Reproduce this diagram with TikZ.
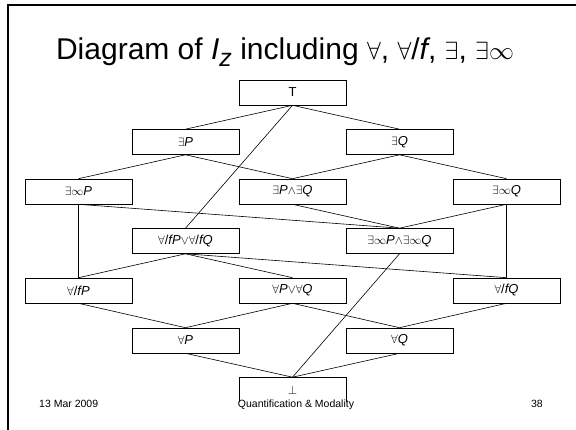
\documentclass[tikz,border=0pt]{standalone}
\usepackage{amsmath,amssymb}
\usepackage{fontspec}
\setmainfont{Liberation Sans}
\usepackage{tikz}

\begin{document}
\begin{tikzpicture}[x=1pt, y=-1pt,
    lattice/.style={draw=black, line width=0.6pt, minimum width=107pt, minimum height=25pt,
        inner sep=0pt, font=\fontsize{13}{13}\selectfont},
    edge/.style={black, line width=0.6pt},
    footer/.style={font=\fontsize{10.5}{11}\selectfont, inner sep=0pt, anchor=base}]

    \useasboundingbox (0,0) rectangle (576,430);

    % slide frame
    \draw[line width=2pt] (7.8,430) -- (7.8,5) -- (576,5);

    \node[anchor=base, font=\fontsize{30}{36}\selectfont] (title) at (285,60)
        {Diagram of \textit{I}\raisebox{-7pt}{\fontsize{25}{25}\selectfont\textit{z}} including
         $\forall$, $\forall$/\textit{f}, $\exists$, $\exists\infty$};

    % the lattice, row by row
    \node[lattice] (top) at (292.5,92.5) {T};

    \node[lattice] (exP) at (185.5,142) {$\exists$\textit{P}};
    \node[lattice] (exQ) at (399.5,142) {$\exists$\textit{Q}};

    \node[lattice] (exinfP) at (78.5,191.5) {$\exists\infty$\textit{P}};
    \node[lattice] (exPexQ) at (292.5,191.5) {$\exists$\textit{P}$\wedge\exists$\textit{Q}};
    \node[lattice] (exinfQ) at (506.5,191.5) {$\exists\infty$\textit{Q}};

    \node[lattice] (afPafQ) at (185.5,241) {$\forall$/\textit{fP}$\vee\forall$/\textit{fQ}};
    \node[lattice] (exinfPQ) at (399.5,241) {$\exists\infty$\textit{P}$\wedge\exists\infty$\textit{Q}};

    \node[lattice] (afP) at (78.5,290.5) {$\forall$/\textit{fP}};
    \node[lattice] (aPaQ) at (292.5,290.5) {$\forall$\textit{P}$\vee\forall$\textit{Q}};
    \node[lattice] (afQ) at (506.5,290.5) {$\forall$/\textit{fQ}};

    \node[lattice] (aP) at (185.5,340.5) {$\forall$\textit{P}};
    \node[lattice] (aQ) at (399.5,340.5) {$\forall$\textit{Q}};

    \node[lattice] (bot) at (292.5,390) {$\bot$};

    \draw[edge] (top.south) -- (exP.north);
    \draw[edge] (top.south) -- (exQ.north);
    \draw[edge] (top.south) -- (afPafQ.north);

    \draw[edge] (exP.south) -- (exinfP.north);
    \draw[edge] (exP.south) -- (exPexQ.north);
    \draw[edge] (exQ.south) -- (exPexQ.north);
    \draw[edge] (exQ.south) -- (exinfQ.north);

    \draw[edge] (exinfP.south) -- (afP.north);
    \draw[edge] (exinfP.south) -- (exinfPQ.north);
    \draw[edge] (exPexQ.south) -- (exinfPQ.north);
    \draw[edge] (exinfQ.south) -- (exinfPQ.north);
    \draw[edge] (exinfQ.south) -- (afQ.north);

    \draw[edge] (afPafQ.south) -- (afP.north);
    \draw[edge] (afPafQ.south) -- (aPaQ.north);
    \draw[edge] (afPafQ.south) -- (afQ.north);
    \draw[edge] (exinfPQ.south) -- (bot.north);

    \draw[edge] (afP.south) -- (aP.north);
    \draw[edge] (aPaQ.south) -- (aP.north);
    \draw[edge] (aPaQ.south) -- (aQ.north);
    \draw[edge] (afQ.south) -- (aQ.north);

    \draw[edge] (aP.south) -- (bot.north);
    \draw[edge] (aQ.south) -- (bot.north);

    % footer line, drawn over the bottom box
    \node[footer, anchor=base west] (date) at (39,408) {13 Mar 2009};
    \node[footer, fill=white, text height=6pt, text depth=3pt] (topic) at (296,408) {Quantification \& Modality};
    \node[footer, anchor=base east] (page) at (543,408) {38};
\end{tikzpicture}
\end{document}
